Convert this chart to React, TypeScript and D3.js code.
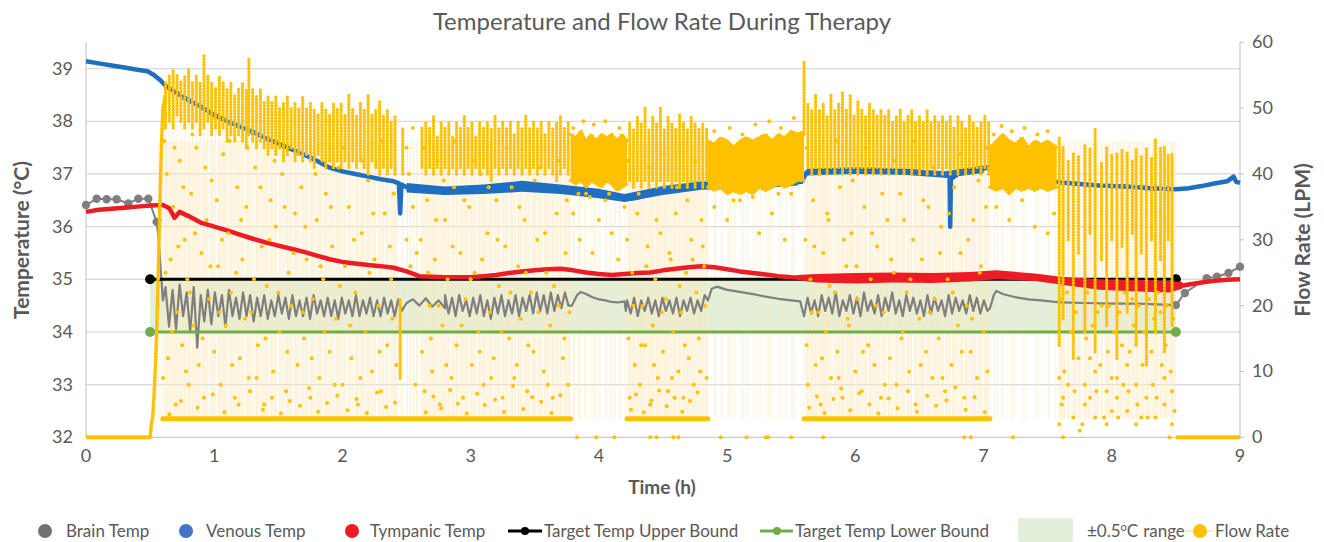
import React from 'react';
import * as d3 from 'd3';

// ---- data ----

// venous temperature (deg C) [hours, value]
const venousTemp = [
  [0,39.14],[0.1,39.1],[0.2,39.06],[0.3,39.02],[0.4,38.98],[0.48,38.95],[0.53,38.88],[0.58,38.78],
  [0.63,38.65],[0.7,38.55],[0.8,38.4],[0.9,38.27],[1.0,38.12],[1.1,38.0],[1.2,37.9],[1.3,37.8],
  [1.4,37.68],[1.5,37.58],[1.6,37.47],[1.7,37.37],[1.8,37.25],[1.9,37.12],[2.0,37.05],[2.1,37.0],
  [2.2,36.95],[2.3,36.9],[2.4,36.86],[2.44,36.82],[2.45,36.25],[2.46,36.8],[2.5,36.75],[2.55,36.72],
  [2.6,36.7],[2.7,36.68],[2.8,36.65],[2.9,36.68],[3.0,36.7],[3.1,36.72],[3.2,36.68],[3.3,36.72],
  [3.4,36.78],[3.5,36.76],[3.6,36.72],[3.7,36.7],[3.8,36.68],[3.9,36.65],[4.0,36.62],[4.1,36.58],
  [4.2,36.52],[4.3,36.55],[4.4,36.62],[4.5,36.68],[4.6,36.72],[4.7,36.75],[4.8,36.78],[4.9,36.78],
  [5.0,36.77],[5.1,36.77],[5.2,36.78],[5.3,36.8],[5.4,36.82],[5.5,36.83],[5.58,36.85],[5.62,37.03],
  [5.7,37.05],[5.8,37.06],[5.9,37.06],[6.0,37.07],[6.1,37.08],[6.2,37.07],[6.3,37.05],[6.4,37.04],
  [6.5,37.03],[6.6,37.02],[6.7,36.98],[6.735,36.95],[6.74,36.0],[6.745,36.9],[6.8,37.0],[6.9,37.05],
  [7.0,37.1],[7.05,37.14],[7.1,37.05],[7.2,36.98],[7.3,36.95],[7.4,36.9],[7.5,36.87],[7.6,36.84],
  [7.7,36.82],[7.8,36.8],[7.9,36.78],[8.0,36.77],[8.1,36.76],[8.2,36.75],[8.3,36.73],[8.4,36.72],
  [8.5,36.71],[8.6,36.73],[8.7,36.77],[8.8,36.82],[8.9,36.86],[8.95,36.95],[8.97,36.85],[9.0,36.83]
];
// noisy spread of venous readings [hours, low, high]
const venousSpread1 = [[2.5,36.65,36.83],[2.8,36.6,36.76],[3.1,36.62,36.8],[3.4,36.66,36.87],[3.7,36.62,36.8],
  [4.0,36.54,36.72],[4.2,36.47,36.62],[4.5,36.6,36.77],[4.8,36.7,36.86],[5.2,36.72,36.84],[5.55,36.78,36.9]];
const venousSpread2 = [[5.62,36.97,37.1],[6.0,37.0,37.13],[6.4,36.98,37.1],[6.7,36.93,37.05],[7.0,37.02,37.16]];

// tympanic temperature
const tympanicTemp = [
  [0,36.28],[0.1,36.32],[0.2,36.34],[0.3,36.36],[0.4,36.38],[0.5,36.4],[0.6,36.41],[0.65,36.35],
  [0.69,36.17],[0.73,36.28],[0.8,36.2],[0.9,36.07],[1.0,36.0],[1.1,35.93],[1.2,35.85],[1.3,35.77],
  [1.4,35.7],[1.5,35.64],[1.6,35.58],[1.7,35.52],[1.8,35.45],[1.9,35.38],[2.0,35.33],[2.1,35.3],
  [2.2,35.27],[2.3,35.25],[2.4,35.22],[2.5,35.15],[2.6,35.06],[2.7,35.05],[2.8,35.04],[2.9,35.04],
  [3.0,35.04],[3.1,35.06],[3.2,35.08],[3.3,35.12],[3.4,35.15],[3.5,35.17],[3.6,35.19],[3.7,35.2],
  [3.8,35.17],[3.9,35.13],[4.0,35.1],[4.1,35.08],[4.2,35.1],[4.3,35.12],[4.4,35.13],[4.5,35.17],
  [4.6,35.2],[4.7,35.23],[4.8,35.25],[4.9,35.23],[5.0,35.19],[5.1,35.15],[5.2,35.12],[5.3,35.09],
  [5.4,35.06],[5.5,35.04],[5.6,35.03],[5.7,35.02],[5.8,35.02],[5.9,35.0],[6.0,35.02],[6.2,35.04],
  [6.4,35.05],[6.6,35.04],[6.8,35.05],[7.0,35.06],[7.1,35.1],[7.2,35.09],[7.3,35.07],[7.4,35.04],
  [7.5,35.02],[7.6,34.98],[7.8,34.92],[8.0,34.9],[8.2,34.88],[8.4,34.87],[8.5,34.86],[8.6,34.9],
  [8.7,34.94],[8.8,34.97],[8.9,34.99],[9.0,35.0]
];
// noisy spread of tympanic readings [hours, low, high]
const tympanicSpread = [
  [5.55,34.98,35.08],[5.7,34.94,35.1],[6.0,34.92,35.12],[6.3,34.94,35.13],[6.6,34.93,35.12],
  [6.9,34.96,35.14],[7.1,35.0,35.17],[7.4,34.97,35.11],[7.6,34.9,35.05],[7.9,34.8,35.0],
  [8.2,34.77,34.99],[8.45,34.75,34.97],[8.55,34.82,34.95]
];

// brain temperature, sparse readings with markers
const brainHead = [[0,36.41],[0.083,36.53],[0.161,36.52],[0.239,36.52],[0.33,36.44],[0.408,36.53],[0.486,36.53],[0.551,36.09]];
const brainTail = [[8.5,34.51],[8.57,34.74],[8.74,35.02],[8.82,35.05],[8.91,35.12],[9.0,35.24]];
// brain temperature, dense section
const brainDrop = [[0.551,36.09],[0.565,35.8],[0.585,35.1],[0.6,34.6]];
const brainOsc1 = [34.85,34.1,34.8,34.05,34.9,34.3,34.75,34.0,34.85,33.7,34.7,34.2,34.8,34.15,34.75,34.3,
  34.7,34.1,34.8,34.3,34.65,34.25,34.75,34.3,34.7,34.2,34.65,34.3,34.7,34.25,34.6,34.3,34.7,34.35,34.65,
  34.25,34.7,34.3,34.6,34.3,34.65,34.25,34.7,34.35,34.6,34.3,34.65,34.3,34.6,34.25,34.65,34.35,34.6,34.3,
  34.7,34.3,34.6,34.35,34.65,34.3,34.6,34.3,34.65,34.35,34.6,34.3,34.62,34.4];
const brainMid1 = [[2.5,34.55],[2.55,34.62],[2.6,34.5],[2.65,34.64],[2.7,34.48],[2.75,34.6],[2.8,34.45]];
const brainOsc2 = [34.7,34.35,34.65,34.3,34.7,34.4,34.6,34.3,34.65,34.35,34.7,34.3,34.6,34.25,34.65,34.35,
  34.7,34.3,34.6,34.35,34.7,34.3,34.65,34.4,34.7,34.35,34.75,34.4,34.7,34.35,34.75,34.4,34.7,34.45,34.75,34.5];
const brainFlat1 = [[3.79,34.5],[3.83,34.7],[3.86,34.76],[3.9,34.72],[3.95,34.66],[4.0,34.62],[4.05,34.6],
  [4.1,34.57],[4.15,34.56],[4.2,34.58],[4.21,34.4]];
const brainOsc3 = [34.6,34.35,34.65,34.3,34.6,34.4,34.65,34.35,34.6,34.3,34.65,34.4,34.6,34.35,34.65,34.3,
  34.6,34.4,34.65,34.35,34.6,34.4,34.7];
const brainFlat2 = [[4.85,34.6],[4.88,34.82],[4.92,34.86],[5.0,34.8],[5.1,34.76],[5.2,34.72],[5.3,34.67],
  [5.4,34.63],[5.5,34.6],[5.57,34.58],[5.6,34.3]];
const brainOsc4 = [34.3,34.65,34.35,34.6,34.3,34.7,34.4,34.65,34.35,34.75,34.3,34.6,34.4,34.7,34.35,34.65,
  34.3,34.75,34.4,34.6,34.35,34.7,34.3,34.65,34.4,34.75,34.35,34.6,34.3,34.7,34.4,34.65,34.35,34.6,34.3,
  34.7,34.35,34.65,34.4,34.6,34.3,34.7,34.35,34.65,34.4,34.6,34.35,34.7,34.4,34.65,34.35,34.6,34.4];
const brainFlat3 = [[7.05,34.45],[7.08,34.7],[7.1,34.78],[7.15,34.72],[7.25,34.66],[7.35,34.62],[7.45,34.6],
  [7.6,34.56],[7.8,34.55],[8.0,34.54],[8.2,34.54],[8.4,34.52],[8.5,34.51]];
const oscStart = [0.62, 2.8, 4.22, 5.6];
const oscStep = 0.0275;

// target bounds
const targetTimes = [0.5, 8.5];
const upperBound = [35, 35];
const lowerBound = [34, 34];

// flow rate (LPM)
const flowZero = [[0, 0.5], [8.5, 9]];
const flowRamp = [[0.5,0],[0.51,2],[0.52,3],[0.53,6],[0.54,10],[0.55,15],[0.56,22],[0.57,30],[0.58,38],[0.59,45],[0.6,50],[0.62,52]];
const flowBaseline = [[0.6, 3.78], [4.22, 4.85], [5.6, 7.05]];
const baselineFlow = 2.8;
// pulse columns [hours, low, high]
const flowPulses = [
  [0.62,47,54],[0.65,48,55],[0.68,47,56],[0.71,49,55],[0.74,48,54],[0.77,47,55],[0.80,48,56],[0.83,47,54],
  [0.86,48,55],[0.89,46,54],[0.92,47,58],[0.95,48,55],[0.98,46,54],[1.01,47,53],[1.04,46,55],[1.07,47,54],
  [1.10,45,53],[1.13,46,54],[1.16,45,52],[1.19,46,53],[1.22,45,54],[1.25,44,53],[1.27,46,57.5],[1.30,45,53],
  [1.33,44,52],[1.36,45,53],[1.39,44,51],[1.42,43,52],[1.45,44,51],[1.48,43,52],[1.51,44,50],[1.54,42,51],
  [1.57,43,52],[1.60,44,50],[1.63,42,51],[1.66,43,50],[1.69,42,52],[1.72,43,50],[1.75,42,51],[1.78,41,50],
  [1.81,43,49],[1.84,42,51],[1.87,41,50],[1.90,42,49],[1.93,41,51],[1.96,42,50],[1.99,41,51],[2.02,42,49],
  [2.05,41,52],[2.08,42,50],[2.11,41,49],[2.14,42,51],[2.17,41,50],[2.20,40,52],[2.23,42,49],[2.26,41,50],
  [2.29,40,51],[2.32,41,49],[2.35,40,50],[2.38,41,48],[2.41,40,49],[2.47,40,47],[2.45,9,21],
  [2.62,41,47],[2.65,40,48],[2.68,41,47],[2.71,40,49],[2.74,41,46],[2.77,40,48],[2.80,41,47],[2.83,40,48],
  [2.86,41,46],[2.89,40,48],[2.92,41,47],[2.95,40,49],[2.98,41,47],[3.01,40,48],[3.04,41,46],[3.07,40,48],
  [3.10,41,47],[3.13,40,48],[3.16,39,47],[3.19,41,49],[3.22,40,47],[3.25,41,48],[3.28,40,47],[3.31,41,48],
  [3.34,40,46],[3.37,41,48],[3.40,40,47],[3.43,41,49],[3.46,40,47],[3.49,41,48],[3.52,40,47],[3.55,41,48],
  [3.58,40,46],[3.61,41,48],[3.64,40,47],[3.67,39,48],[3.70,40,49],[3.73,41,47],[3.76,40,48],
  [4.24,39,48],[4.27,38,47],[4.30,39,49],[4.33,38,48],[4.36,39,50],[4.39,38,47],[4.42,39,49],[4.45,38,48],
  [4.48,39,50],[4.51,38,47],[4.54,39,49],[4.57,38,48],[4.60,39,47],[4.63,38,49],[4.66,39,48],[4.69,38,47],
  [4.72,39,49],[4.75,38,48],[4.78,39,47],[4.81,38,48],[4.84,39,47],
  [5.6,46,57],
  [5.63,41,51],[5.66,40,50],[5.69,41,52],[5.72,40,50],[5.75,41,51],[5.78,40,49],[5.81,41,52],[5.84,40,50],
  [5.87,41,51],[5.90,40,52.5],[5.93,41,50],[5.96,40,52],[5.99,41,49],[6.02,40,51],[6.05,41,50],[6.08,40,49],
  [6.11,41,51],[6.14,40,50],[6.17,41,49],[6.20,40,50],[6.23,41,49],[6.26,40,50],[6.29,41,48],[6.32,40,49],
  [6.35,41,50],[6.38,40,48],[6.41,41,49],[6.44,40,50],[6.47,41,48],[6.50,40,49],[6.53,41,48],[6.56,40,50],
  [6.59,41,48],[6.62,40,49],[6.65,41,48],[6.68,40,49],[6.71,41,48],[6.74,40,49],[6.77,41,47],[6.80,40,49],
  [6.83,41,48],[6.86,40,47],[6.89,41,49],[6.92,40,48],[6.95,41,47],[6.98,40,48],[7.01,41,49],[7.04,40,48],
  [7.59,14,45.5],[7.62,18,44],[7.70,12,43],[7.79,16,44.6],[7.87,13,46.8],[7.96,17,44.3],[8.04,12,43.2],
  [8.12,19,43.5],[8.19,14,44],[8.27,11,44],[8.34,16,45.5],[8.41,13,44.3],[8.47,17,43],
  [7.66,30,42],[7.74,28,43],[7.83,31,44],[7.92,27,42],[8.0,30,43],[8.08,29,44],[8.16,31,42],[8.23,28,43],
  [8.31,30,42.5],[8.38,27,44],[8.44,30,43]
];
// continuous high-flow blocks [hours, low, high]
const flowBlock1 = [[3.78,39,46],[3.82,38.5,45.5],[3.86,39,46.5],[3.9,38,45],[3.94,39,46],[3.98,38.5,45],
  [4.02,38,46],[4.06,39,45.5],[4.1,38.5,46],[4.14,37.5,45],[4.18,38,46],[4.22,38.5,45]];
const flowBlock2 = [[4.85,38,45],[4.9,37.5,44.5],[4.95,38,45.5],[5.0,37,45],[5.05,37.5,44],[5.1,37,45],
  [5.15,37.5,45.5],[5.2,37,45],[5.25,38,45.5],[5.3,37.5,46],[5.35,38,45],[5.4,38.5,46],[5.45,38,45.5],
  [5.5,38.5,46.5],[5.55,39,46],[5.6,39,46.5]];
const flowBlock3 = [[7.05,38,44],[7.1,37.5,45],[7.15,38,46],[7.2,37,45],[7.25,38,44.5],[7.3,37.5,45.5],
  [7.35,38,44],[7.4,37.5,45],[7.45,38,44.5],[7.5,37.5,45],[7.57,38,44]];
// scattered single readings [hours, LPM]
const flowScatter = [
  [0.56,20],[0.58,33],[0.6,9],[0.63,40],[0.64,12],[0.66,27],[0.68,35],[0.7,5],[0.71,19],[0.73,42],[0.75,14],
  [0.77,30],[0.79,24],[0.8,8],[0.82,37],[0.84,17],[0.86,44],[0.88,11],[0.9,28],[0.92,6],[0.94,33],[0.96,21],
  [0.98,39],[1.0,13],[1.03,26],[1.05,8],[1.07,43],[1.09,17],[1.11,31],[1.13,22],[1.16,6],[1.18,38],[1.2,12],
  [1.22,27],[1.25,35],[1.27,9],[1.29,19],[1.32,41],[1.34,14],[1.37,29],[1.39,5],[1.41,23],[1.44,36],[1.46,10],
  [1.48,32],[1.51,16],[1.53,40],[1.56,7],[1.58,25],[1.6,20],[1.63,34],[1.65,11],[1.68,38],[1.7,15],[1.72,27],
  [1.75,6],[1.77,21],[1.8,33],[1.82,9],[1.85,24],[1.87,37],[1.9,13],[1.92,29],[1.95,18],[1.97,41],[2.0,8],
  [2.02,26],[2.05,35],[2.07,12],[2.1,22],[2.12,5],[2.15,31],[2.18,16],[2.2,39],[2.23,10],[2.25,27],[2.28,20],
  [2.3,7],[2.33,34],[2.35,14],[2.38,24],[2.4,37],[2.42,11],
  [2.5,44],[2.5,30],[2.52,40],[2.53,26],[2.55,47],[2.55,35],[2.57,8],[2.58,28],
  [2.61,30],[2.62,13],[2.64,7],[2.66,36],[2.68,20],[2.7,10],[2.72,27],[2.74,42],[2.76,5],[2.78,17],[2.8,33],
  [2.82,24],[2.85,9],[2.87,38],[2.89,14],[2.92,28],[2.94,6],[2.96,21],[2.99,35],[3.01,11],[3.03,25],[3.06,16],
  [3.08,40],[3.1,8],[3.13,31],[3.15,19],[3.18,12],[3.2,36],[3.22,23],[3.25,6],[3.27,29],[3.3,15],[3.32,38],
  [3.34,9],[3.37,26],[3.39,18],[3.42,33],[3.44,7],[3.47,22],[3.49,13],[3.52,30],[3.54,41],[3.57,10],[3.59,25],
  [3.62,17],[3.64,6],[3.67,34],[3.69,20],[3.72,12],[3.74,28],[3.76,8],[3.77,19],
  [3.8,34],[3.85,30],[3.9,37],[3.95,28],[4.0,33],[4.05,36],[4.1,31],[4.15,27],[4.2,35],[3.83,0],[3.98,0],[4.12,0],
  [4.22,30],[4.23,15],[4.24,6],[4.26,25],[4.28,11],[4.3,34],[4.32,8],[4.34,20],[4.36,14],[4.38,29],[4.4,5],
  [4.42,17],[4.44,24],[4.46,9],[4.48,31],[4.5,13],[4.52,21],[4.54,7],[4.56,27],[4.58,16],[4.6,34],[4.62,10],
  [4.64,19],[4.66,6],[4.68,25],[4.7,12],[4.72,30],[4.74,8],[4.76,22],[4.78,15],[4.8,33],[4.82,26],[4.83,20],
  [4.84,9],[4.4,0],[4.45,0],[4.58,0],[4.62,0],
  [4.9,35],[5.0,33],[5.1,36],[5.25,31],[5.35,34],[5.45,30],[5.5,37],[4.95,0],[5.15,0],[5.3,0],[5.32,0],[5.5,0],
  [5.61,30],[5.62,14],[5.63,8],[5.65,24],[5.67,36],[5.69,11],[5.71,19],[5.73,5],[5.75,28],[5.77,16],[5.79,33],
  [5.81,9],[5.84,22],[5.86,13],[5.88,38],[5.9,6],[5.93,26],[5.95,17],[5.97,31],[6.0,10],[6.02,21],[6.05,7],
  [6.07,35],[6.1,14],[6.12,24],[6.15,11],[6.17,29],[6.2,6],[6.22,19],[6.25,33],[6.27,12],[6.3,25],[6.32,8],
  [6.35,37],[6.37,16],[6.4,22],[6.42,10],[6.45,30],[6.47,5],[6.5,18],[6.52,27],[6.55,13],[6.57,35],[6.6,9],
  [6.62,21],[6.65,15],[6.67,32],[6.7,7],[6.72,24],[6.75,11],[6.77,38],[6.8,17],[6.82,28],[6.85,6],[6.87,20],
  [6.9,13],[6.92,33],[6.95,9],[6.97,25],[7.0,16],[7.02,35],[7.03,10],[5.75,0],[6.85,0],[6.9,0],[7.23,0],
  [7.1,35],[7.2,33],[7.3,36],[7.4,32],[7.5,31],[7.55,34],
  [7.59,9],[7.59,2],[7.62,6],[7.62,0],[7.7,3],[7.79,8],[7.79,5],[7.87,3],[7.87,10],[7.96,7],[7.96,2],
  [8.04,6],[8.04,9],[8.12,4],[8.12,11],[8.19,8],[8.19,2],[8.27,6],[8.34,3],[8.41,9],[8.41,5],[8.47,2],[8.47,7],
  [7.65,22],[7.75,1],[7.83,12],[7.92,20],[8.0,4],[8.08,14],[8.16,21],[8.23,3],[8.31,13],[8.38,19],[8.45,0]
];
const flowScatter2 = [
  [0.61,45],[0.62,25],[0.65,3.5],[0.67,16],[0.69,44],[0.72,29],[0.74,5.5],[0.76,38],[0.78,10],[0.81,22],[0.83,46],
  [0.85,31],[0.87,4.5],[0.91,15],[0.93,41],[0.97,26],[0.99,6.5],[1.02,36],[1.04,19],[1.06,30],[1.08,3.8],[1.12,45],
  [1.14,11],[1.17,25],[1.19,5],[1.21,33],[1.24,18],[1.26,44],[1.28,7],[1.31,24],[1.33,9],[1.36,38],[1.38,4.2],
  [1.4,15],[1.43,30],[1.45,6],[1.47,42],[1.5,22],[1.52,3.6],[1.55,35],[1.57,13],[1.59,5.5],[1.62,28],[1.64,43],
  [1.67,4.8],[1.69,19],[1.71,32],[1.74,7.5],[1.76,12],[1.79,40],[1.81,3.9],[1.83,26],[1.86,16],[1.88,5.2],[1.91,35],
  [1.94,8],[1.96,6.3],[1.98,23],[2.01,44],[2.04,4.1],[2.06,17],[2.09,30],[2.11,5.8],[2.14,9],[2.16,42],[2.19,3.7],
  [2.21,25],[2.24,34],[2.27,6.8],[2.29,13],[2.31,45],[2.34,4.6],[2.37,29],[2.39,18],[2.41,5.3],
  [2.63,44],[2.65,3.8],[2.67,25],[2.69,15],[2.71,6.2],[2.73,33],[2.75,20],[2.77,4.4],[2.79,39],[2.81,11],[2.84,7.2],
  [2.86,29],[2.88,45],[2.9,5.1],[2.93,17],[2.95,36],[2.97,3.6],[3.0,24],[3.02,42],[3.05,6.6],[3.07,13],[3.09,27],
  [3.11,4.9],[3.14,38],[3.16,9],[3.19,5.7],[3.21,30],[3.24,16],[3.26,3.9],[3.28,44],[3.31,22],[3.33,7.8],[3.36,11],
  [3.38,35],[3.41,4.3],[3.43,25],[3.45,14],[3.48,6.1],[3.5,39],[3.53,19],[3.55,5.4],[3.58,31],[3.6,8],[3.63,3.7],
  [3.65,23],[3.68,42],[3.7,6.4],[3.73,15],[3.75,36],
  [3.8,47],[3.88,48],[3.96,47.5],[4.05,48],[4.16,47],[3.84,37],[3.93,36.5],[4.08,37],
  [4.23,42],[4.25,4.2],[4.27,20],[4.29,6.5],[4.31,37],[4.33,14],[4.35,3.8],[4.37,26],[4.39,41],[4.41,5.6],[4.43,11],
  [4.45,33],[4.47,7.1],[4.49,19],[4.51,43],[4.53,4.7],[4.55,28],[4.57,9],[4.59,6],[4.61,38],[4.63,23],[4.65,3.9],
  [4.67,14],[4.69,36],[4.71,5.5],[4.73,27],[4.75,42],[4.77,6.8],[4.79,10],[4.81,29],
  [4.9,46.5],[5.02,47],[5.12,46],[5.22,47.5],[5.33,48],[5.42,47],[5.52,48.5],[5.05,36],[5.2,36.5],[5.4,37],
  [5.62,44],[5.64,4.5],[5.66,19],[5.68,29],[5.7,6.2],[5.72,40],[5.74,12],[5.76,3.7],[5.78,34],[5.8,23],[5.83,5.8],
  [5.85,45],[5.87,9],[5.89,7.4],[5.91,30],[5.94,18],[5.96,4.1],[5.98,39],[6.01,26],[6.03,6.7],[6.06,13],[6.08,44],
  [6.11,5],[6.13,31],[6.16,20],[6.18,3.6],[6.21,37],[6.23,8],[6.26,5.9],[6.28,27],[6.31,42],[6.33,4.4],[6.36,15],
  [6.38,33],[6.41,7],[6.43,24],[6.46,45],[6.48,3.9],[6.51,11],[6.53,36],[6.56,6.3],[6.58,19],[6.61,41],[6.63,4.8],
  [6.66,28],[6.68,9],[6.71,5.6],[6.73,34],[6.76,22],[6.78,7.6],[6.81,43],[6.83,13],[6.86,4.2],[6.88,30],[6.91,18],
  [6.93,6.1],[6.96,39],[6.98,26],[7.01,3.8],[7.03,44],
  [7.08,46],[7.14,47.3],[7.22,46.5],[7.32,47],[7.42,46],[7.5,46.5],
  [7.6,21],[7.61,5],[7.63,10],[7.66,8],[7.68,16],[7.71,7],[7.72,19],[7.74,12],[7.77,2],[7.8,15],[7.81,22],
  [7.83,6],[7.85,17],[7.88,7],[7.89,19],[7.91,11],[7.94,3],[7.97,13],[7.98,20],[8.0,9],[8.02,16],[8.05,3],
  [8.06,19],[8.09,8],[8.1,22],[8.13,7],[8.14,13],[8.17,17],[8.2,5],[8.21,20],[8.24,11],[8.25,16],[8.28,3],
  [8.29,21],[8.32,8],[8.33,18],[8.35,6],[8.36,22],[8.39,11],[8.42,14],[8.43,20],[8.46,10],[8.48,18],[8.49,4]
];

const timeTicks = [0,1,2,3,4,5,6,7,8,9];
const tempTicks = [32,33,34,35,36,37,38,39];
const flowTicks = [0,10,20,30,40,50,60];

const legendItems = ['Brain Temp', 'Venous Temp', 'Tympanic Temp', 'Target Temp Upper Bound',
  'Target Temp Lower Bound', '±0.5', 'Flow Rate'];

const font = 'Lato, "Open Sans", sans-serif';
const textColor = '#595959';
const cBrain = '#7F7F7F', cVenous = '#1F6FC1', cTymp = '#EC1C24', cFlow = '#FFC000', cGreen = '#70AD47';

export default function App() {
  const width = 1324, height = 542;
  const left = 86, right = 1240, top = 42.3, bottom = 437.3;

  const x = d3.scaleLinear().domain([0, 9]).range([left, right]);
  const yT = d3.scaleLinear().domain([32, 39.5]).range([bottom, top]);
  const yF = d3.scaleLinear().domain([0, 60]).range([bottom, top]);

  const tLine = d3.line<number[]>().x(d => x(d[0])).y(d => yT(d[1]));
  const fLine = d3.line<number[]>().x(d => x(d[0])).y(d => yF(d[1]));
  const spreadArea = d3.area<number[]>().x(d => x(d[0])).y0(d => yT(d[1])).y1(d => yT(d[2]));
  const blockArea = d3.area<number[]>().x(d => x(d[0])).y0(d => yF(d[1])).y1(d => yF(d[2]));

  const osc = [brainOsc1, brainOsc2, brainOsc3, brainOsc4].map((vals, k) =>
    vals.map((v, i) => [oscStart[k] + i * oscStep, v]));
  const brainDense = [
    ...brainDrop, ...osc[0], ...brainMid1, ...osc[1], ...brainFlat1, ...osc[2],
    ...brainFlat2, ...osc[3], ...brainFlat3
  ];

  const dotted = { stroke: cFlow, strokeLinecap: 'round' as const, strokeDasharray: '0 3' };
  const blocks = [flowBlock1, flowBlock2, flowBlock3];
  const scatter = [...flowScatter, ...flowScatter2];

  return (
    <svg width={width} height={height} style={{ position: 'absolute', left: 0, top: 0, background: '#fff' }}
      fontFamily={font}>
      <text x={662} y={30} textAnchor="middle" fontSize={24} fill={textColor}>
        Temperature and Flow Rate During Therapy
      </text>

      {/* gridlines */}
      {tempTicks.slice(1).map(t => (
        <line key={t} x1={left} x2={right} y1={yT(t)} y2={yT(t)} stroke="#D9D9D9" strokeWidth={1.2} />
      ))}

      {/* ±0.5 range band */}
      <rect x={x(targetTimes[0])} width={x(targetTimes[1]) - x(targetTimes[0])}
        y={yT(upperBound[0])} height={yT(lowerBound[0]) - yT(upperBound[0])} fill="#E2EFDA" />

      {/* pale flow connector lines */}
      <g stroke="#FCEBC0" strokeWidth={0.8} opacity={0.7}>
        {flowPulses.map((d, i) => (
          <line key={i} x1={x(d[0])} x2={x(d[0])} y1={yF(baselineFlow)} y2={yF(d[2])} />
        ))}
        {scatter.map((d, i) => (
          <line key={'s' + i} x1={x(d[0]) + 1} x2={x(d[0]) + 1} y1={yF(baselineFlow)} y2={yF(45)} />
        ))}
      </g>

      {/* axes */}
      <line x1={left} x2={left} y1={top} y2={bottom} stroke="#BFBFBF" />
      <line x1={right} x2={right} y1={top} y2={bottom} stroke="#BFBFBF" />
      <line x1={left} x2={right} y1={bottom} y2={bottom} stroke="#BFBFBF" />
      {flowTicks.map(f => (
        <line key={f} x1={right} x2={right + 4} y1={yF(f)} y2={yF(f)} stroke="#BFBFBF" />
      ))}

      {/* brain */}
      <path d={tLine(brainDense) || ''} fill="none" stroke={cBrain} strokeWidth={2.2} strokeLinejoin="round" />
      <path d={tLine(brainHead) || ''} fill="none" stroke={cBrain} strokeWidth={2} />
      <path d={tLine(brainTail) || ''} fill="none" stroke={cBrain} strokeWidth={2} />
      {[...brainHead, ...brainTail].map((d, i) => (
        <circle key={i} cx={x(d[0])} cy={yT(d[1])} r={4.2} fill={cBrain} />
      ))}

      {/* venous */}
      <path d={spreadArea(venousSpread1) || ''} fill={cVenous} />
      <path d={spreadArea(venousSpread2) || ''} fill={cVenous} />
      <path d={tLine(venousTemp) || ''} fill="none" stroke={cVenous} strokeWidth={4.5} strokeLinejoin="round" />

      {/* target bounds */}
      <path d={tLine(targetTimes.map((t, i) => [t, upperBound[i]])) || ''} stroke="#000" strokeWidth={3} />
      <path d={tLine(targetTimes.map((t, i) => [t, lowerBound[i]])) || ''} stroke={cGreen} strokeWidth={3} />
      {targetTimes.map((t, i) => (
        <g key={i}>
          <circle cx={x(t)} cy={yT(upperBound[i])} r={5} fill="#000" />
          <circle cx={x(t)} cy={yT(lowerBound[i])} r={5} fill={cGreen} />
        </g>
      ))}

      {/* tympanic */}
      <path d={spreadArea(tympanicSpread) || ''} fill={cTymp} />
      <path d={tLine(tympanicTemp) || ''} fill="none" stroke={cTymp} strokeWidth={4.5} strokeLinejoin="round" />

      {/* flow rate */}
      {flowZero.map((d, i) => (
        <line key={i} x1={x(d[0])} x2={x(d[1])} y1={yF(0)} y2={yF(0)} stroke={cFlow} strokeWidth={4} />
      ))}
      <path d={fLine(flowRamp) || ''} fill="none" {...dotted} strokeWidth={4} />
      {flowBaseline.map((d, i) => (
        <line key={i} x1={x(d[0])} x2={x(d[1])} y1={yF(baselineFlow)} y2={yF(baselineFlow)}
          stroke={cFlow} strokeWidth={5} strokeLinecap="round" />
      ))}
      {blocks.map((b, i) => (
        <g key={i}>
          <path d={blockArea(b) || ''} fill={cFlow} />
          <path d={fLine(b.map(d => [d[0], d[2]])) || ''} fill="none" {...dotted} strokeWidth={3.6} />
          <path d={fLine(b.map(d => [d[0], d[1]])) || ''} fill="none" {...dotted} strokeWidth={3.6} />
        </g>
      ))}
      {flowPulses.map((d, i) => (
        <line key={i} x1={x(d[0])} x2={x(d[0])} y1={yF(d[1])} y2={yF(d[2])} {...dotted} strokeWidth={3.4} />
      ))}
      {scatter.map((d, i) => (
        <circle key={i} cx={x(d[0])} cy={yF(d[1])} r={2} fill={cFlow} />
      ))}

      {/* tick labels */}
      {timeTicks.map(t => (
        <text key={t} x={x(t)} y={462} textAnchor="middle" fontSize={18} fill={textColor}>{t}</text>
      ))}
      {tempTicks.map(t => (
        <text key={t} x={73} y={yT(t) + 6} textAnchor="end" fontSize={18} fill={textColor}>{t}</text>
      ))}
      {flowTicks.map(f => (
        <text key={f} x={1252} y={yF(f) + 6} textAnchor="start" fontSize={18} fill={textColor}>{f}</text>
      ))}

      {/* axis titles */}
      <text x={662} y={494} textAnchor="middle" fontSize={19} fontWeight="bold" fill={textColor}>Time (h)</text>
      <text transform="translate(29,240) rotate(-90)" textAnchor="middle" fontSize={21} fontWeight="bold"
        fill={textColor}>Temperature (°C)</text>
      <text transform="translate(1310,240) rotate(-90)" textAnchor="middle" fontSize={21} fontWeight="bold"
        fill={textColor}>Flow Rate (LPM)</text>

      {/* legend */}
      <g fontSize={17} fill={textColor}>
        <circle cx={45} cy={531} r={7} fill="#767171" />
        <text x={66} y={537}>{legendItems[0]}</text>
        <circle cx={186} cy={531} r={7} fill="#4472C4" />
        <text x={206} y={537}>{legendItems[1]}</text>
        <circle cx={352} cy={531} r={7} fill={cTymp} />
        <text x={370} y={537}>{legendItems[2]}</text>
        <line x1={508} x2={542} y1={531} y2={531} stroke="#000" strokeWidth={3} />
        <circle cx={525} cy={531} r={4} fill="#000" />
        <text x={544} y={537}>{legendItems[3]}</text>
        <line x1={760} x2={793} y1={531} y2={531} stroke={cGreen} strokeWidth={3} />
        <circle cx={777} cy={531} r={4} fill={cGreen} />
        <text x={795} y={537}>{legendItems[4]}</text>
        <rect x={1018} y={518} width={55} height={24} rx={2} fill="#E2EFDA" />
        <text x={1087} y={537}>{legendItems[5]}<tspan dy={-6} fontSize={11}>o</tspan>
          <tspan dy={6}>C</tspan><tspan dx={5}>range</tspan></text>
        <line x1={1186} x2={1213} y1={531} y2={531} stroke="#FCE4A8" strokeWidth={1.5} />
        <circle cx={1200} cy={531} r={7} fill={cFlow} />
        <text x={1215} y={537}>{legendItems[6]}</text>
      </g>
    </svg>
  );
}
